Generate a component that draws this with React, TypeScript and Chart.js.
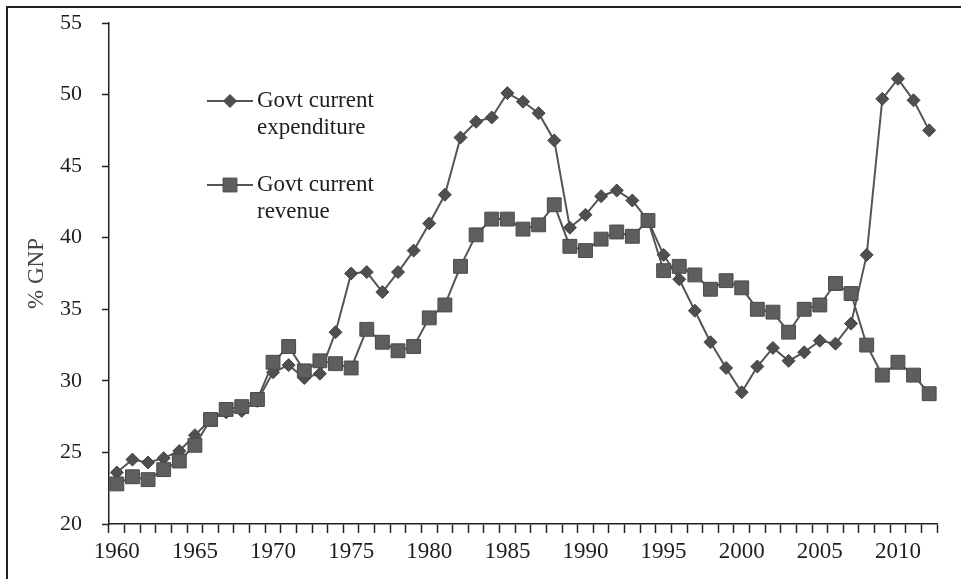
import React, { useEffect, useRef } from "react";
import { Chart, registerables } from "chart.js";

Chart.register(...registerables);

const YEARS: string[] = [];
for (let y = 1960; y <= 2012; y++) YEARS.push(String(y));

const EXPENDITURE = [
  23.6, 24.5, 24.3, 24.6, 25.1, 26.2, 27.3, 27.8, 27.9, 28.6,
  30.6, 31.1, 30.2, 30.5, 33.4, 37.5, 37.6, 36.2, 37.6, 39.1,
  41.0, 43.0, 47.0, 48.1, 48.4, 50.1, 49.5, 48.7, 46.8, 40.7,
  41.6, 42.9, 43.3, 42.6, 41.2, 38.8, 37.1, 34.9, 32.7, 30.9,
  29.2, 31.0, 32.3, 31.4, 32.0, 32.8, 32.6, 34.0, 38.8, 49.7,
  51.1, 49.6, 47.5,
];

const REVENUE = [
  22.8, 23.3, 23.1, 23.8, 24.4, 25.5, 27.3, 28.0, 28.2, 28.7,
  31.3, 32.4, 30.7, 31.4, 31.2, 30.9, 33.6, 32.7, 32.1, 32.4,
  34.4, 35.3, 38.0, 40.2, 41.3, 41.3, 40.6, 40.9, 42.3, 39.4,
  39.1, 39.9, 40.4, 40.1, 41.2, 37.7, 38.0, 37.4, 36.4, 37.0,
  36.5, 35.0, 34.8, 33.4, 35.0, 35.3, 36.8, 36.1, 32.5, 30.4,
  31.3, 30.4, 29.1,
];

const LEGEND_LINES = [
  ["Govt current", "expenditure"],
  ["Govt current", "revenue"],
];

const Y_TITLE = "% GNP";
const FONT = "'Liberation Serif', 'Times New Roman', serif";
const TEXT = "#1e1e1e";
const LINE = "#555555";

const legendPlugin = {
  id: "customLegend",
  afterDraw(chart: any) {
    const ctx = chart.ctx as CanvasRenderingContext2D;
    const rows = [
      { y: 101, ds: 0 },
      { y: 185, ds: 1 },
    ];
    ctx.save();
    rows.forEach((row) => {
      const ds = chart.data.datasets[row.ds];
      ctx.strokeStyle = ds.borderColor;
      ctx.lineWidth = 2;
      ctx.beginPath();
      ctx.moveTo(207, row.y);
      ctx.lineTo(253, row.y);
      ctx.stroke();
      const cx = 230;
      const r = ds.pointRadius;
      ctx.fillStyle = ds.pointBackgroundColor;
      ctx.strokeStyle = ds.pointBorderColor;
      ctx.lineWidth = 1;
      ctx.beginPath();
      if (ds.pointStyle === "rectRot") {
        ctx.moveTo(cx, row.y - r);
        ctx.lineTo(cx + r, row.y);
        ctx.lineTo(cx, row.y + r);
        ctx.lineTo(cx - r, row.y);
        ctx.closePath();
      } else {
        const s = r * Math.SQRT1_2;
        ctx.rect(cx - s, row.y - s, 2 * s, 2 * s);
      }
      ctx.fill();
      ctx.stroke();
      ctx.fillStyle = TEXT;
      ctx.font = `23px ${FONT}`;
      ctx.textBaseline = "middle";
      ctx.textAlign = "left";
      LEGEND_LINES[row.ds].forEach((t, i) => {
        ctx.fillText(t, 257, row.y + i * 27);
      });
    });
    ctx.restore();
  },
};

export default function App() {
  const ref = useRef<HTMLCanvasElement | null>(null);

  useEffect(() => {
    if (!ref.current) return;
    const chart = new Chart(ref.current, {
      type: "line",
      data: {
        labels: YEARS,
        datasets: [
          {
            label: LEGEND_LINES[0].join(" "),
            data: EXPENDITURE,
            borderColor: LINE,
            borderWidth: 2,
            pointStyle: "rectRot",
            pointRadius: 6.5,
            pointBackgroundColor: "#4f4f4f",
            pointBorderColor: "#444",
            pointBorderWidth: 1,
            tension: 0,
            order: 1,
          },
          {
            label: LEGEND_LINES[1].join(" "),
            data: REVENUE,
            borderColor: LINE,
            borderWidth: 2,
            pointStyle: "rect",
            pointRadius: 9.8,
            pointBackgroundColor: "#5e5e5e",
            pointBorderColor: "#4a4a4a",
            pointBorderWidth: 1,
            tension: 0,
            order: 0,
          },
        ],
      },
      options: {
        animation: false,
        responsive: false,
        devicePixelRatio: 1,
        layout: { padding: { left: 0, top: 23, right: 24, bottom: 0 } },
        plugins: {
          legend: { display: false },
          tooltip: { enabled: false },
        },
        scales: {
          x: {
            type: "category",
            offset: true,
            grid: {
              offset: true,
              drawOnChartArea: false,
              drawTicks: true,
              tickLength: 9,
              tickColor: "#222",
              tickWidth: 1.5,
            },
            border: { display: true, color: "#222", width: 1.5 },
            ticks: {
              autoSkip: false,
              maxRotation: 0,
              minRotation: 0,
              padding: 5,
              color: TEXT,
              font: { family: FONT, size: 23 },
              callback: (_v: any, i: number) =>
                Number(YEARS[i]) % 5 === 0 ? YEARS[i] : "",
            },
            afterFit: (s: any) => {
              s.height = 55;
              s.paddingLeft = 0;
              s.paddingRight = 0;
            },
          },
          y: {
            min: 20,
            max: 55,
            ticks: {
              stepSize: 5,
              padding: 20,
              color: TEXT,
              font: { family: FONT, size: 22 },
            },
            grid: {
              drawOnChartArea: false,
              drawTicks: true,
              tickLength: 7,
              tickColor: "#222",
              tickWidth: 1.5,
            },
            border: { display: true, color: "#222", width: 1.5 },
            title: {
              display: true,
              text: Y_TITLE,
              color: "#444",
              font: { family: FONT, size: 23 },
              padding: { top: 23, bottom: 0 },
            },
            afterFit: (s: any) => {
              s.width = 109;
              s.paddingTop = 0;
              s.paddingBottom = 0;
            },
          },
        },
      },
      plugins: [legendPlugin],
    });
    return () => chart.destroy();
  }, []);

  return (
    <div
      style={{
        position: "fixed",
        left: 0,
        top: 0,
        width: 961,
        height: 579,
        background: "#fff",
        overflow: "hidden",
      }}
    >
      <canvas ref={ref} width={961} height={579} style={{ display: "block" }} />
      <div
        style={{
          position: "absolute",
          left: 6,
          top: 6,
          right: -10,
          bottom: -10,
          borderLeft: "2px solid #222",
          borderTop: "2px solid #222",
          pointerEvents: "none",
        }}
      />
    </div>
  );
}
